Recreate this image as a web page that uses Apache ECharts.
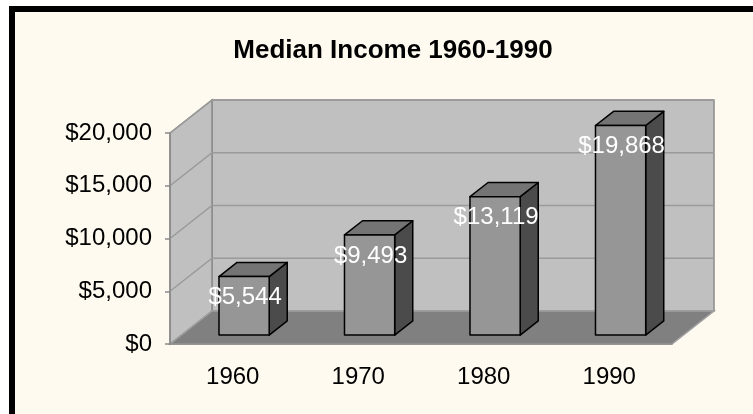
<!DOCTYPE html>
<html>
<head>
<meta charset="utf-8">
<script src="https://cdn.jsdelivr.net/npm/echarts@6/dist/echarts.min.js"></script>
<style>
  html, body { margin: 0; padding: 0; background: #fff; overflow: hidden; }
  #frame { position: absolute; left: 9px; top: 6px; width: 900px; height: 600px; background: #fffaf0; border-left: 6px solid #000; border-top: 6px solid #000; }
  #main { position: absolute; left: 0; top: 0; width: 753px; height: 414px; }
</style>
</head>
<body>
<div id="frame"></div>
<div id="main"></div>
<script>
// 数据
let years = ['1960', '1970', '1980', '1990'];
let income = [5544, 9493, 13119, 19868];
let yTicks = [0, 5000, 10000, 15000, 20000];

// 3D 进深（像素）
const DX = 42, DY = -33;

function money(v) {
  return '$' + v.toLocaleString('en-US');
}

let myChart = echarts.init(document.getElementById('main'));

// 背墙、侧墙、底面
function renderWalls(params, api) {
  let cs = params.coordSys;
  let x0 = cs.x, x1 = cs.x + cs.width;
  let yb = api.coord([0, 0])[1];
  let yt = api.coord([0, yTicks[yTicks.length - 1]])[1];
  let gridColor = '#9a9a9a';
  let children = [
    { type: 'polygon', shape: { points: [[x0 + DX, yb + DY], [x1 + DX, yb + DY], [x1 + DX, yt + DY], [x0 + DX, yt + DY]] },
      style: { fill: '#c0c0c0', stroke: '#8a8a8a', lineWidth: 1.5 } },
    { type: 'polygon', shape: { points: [[x0, yb], [x0 + DX, yb + DY], [x0 + DX, yt + DY], [x0, yt]] },
      style: { fill: '#c0c0c0', stroke: '#8a8a8a', lineWidth: 1.5 } },
    { type: 'polygon', shape: { points: [[x0, yb], [x1, yb], [x1 + DX, yb + DY], [x0 + DX, yb + DY]] },
      style: { fill: '#808080', stroke: '#a0a0a0', lineWidth: 1.5 } }
  ];
  yTicks.forEach(function (v) {
    if (v === 0) return;
    let y = api.coord([0, v])[1];
    children.push({ type: 'polyline', shape: { points: [[x0, y], [x0 + DX, y + DY], [x1 + DX, y + DY]] },
      style: { fill: null, stroke: gridColor, lineWidth: 1.5 } });
  });
  return { type: 'group', children: children };
}

// 立体柱子
function renderBar(params, api) {
  let idx = api.value(0);
  let val = api.value(1);
  let c = api.coord([idx, val]);
  let c0 = api.coord([idx, 0]);
  let band = api.size([1, 0])[0];
  let w = band * 0.4;
  let left = c[0] - w / 2 + DX * 0.27;
  let right = left + w;
  let top = c[1] + DY * 0.27;
  let bottom = c0[1] + DY * 0.27;
  let bdx = DX * 0.43, bdy = DY * 0.43;
  let line = { stroke: '#000', lineWidth: 1.5, lineJoin: 'round' };
  return {
    type: 'group',
    children: [
      { type: 'polygon', shape: { points: [[right, top], [right + bdx, top + bdy], [right + bdx, bottom + bdy], [right, bottom]] },
        style: Object.assign({ fill: '#4b4b4b' }, line) },
      { type: 'polygon', shape: { points: [[left, top], [right, top], [right + bdx, top + bdy], [left + bdx, top + bdy]] },
        style: Object.assign({ fill: '#747474' }, line) },
      { type: 'rect', shape: { x: left, y: top, width: w, height: bottom - top },
        style: Object.assign({ fill: '#969696' }, line) },
      { type: 'text', x: (left + right) / 2 + 1, y: top + 21,
        style: { text: money(val), fill: '#fff', font: '24px "Liberation Sans", Arial', align: 'center', verticalAlign: 'middle' } }
    ]
  };
}

let option = {
  animation: false,
  textStyle: { fontFamily: '"Liberation Sans", Arial, sans-serif' },
  title: {
    text: 'Median Income 1960-1990',
    left: 388,
    textAlign: 'center',
    top: 33,
    textStyle: { fontSize: 26, fontWeight: 'bold', color: '#000' }
  },
  grid: { left: 170, right: 81, top: 133, bottom: 70 },
  xAxis: {
    type: 'category',
    data: years,
    z: 5,
    axisLine: { lineStyle: { color: '#8a8a8a', width: 1.5 } },
    axisTick: { length: 5, lineStyle: { color: '#8a8a8a', width: 1.5 } },
    axisLabel: { fontSize: 24, color: '#000', margin: 21 },
    splitLine: { show: false }
  },
  yAxis: {
    type: 'value',
    min: 0,
    max: 20000,
    interval: 5000,
    z: 5,
    axisLine: { show: true, lineStyle: { color: '#8a8a8a', width: 1.5 } },
    axisTick: { show: true, length: 5, lineStyle: { color: '#8a8a8a', width: 1.5 } },
    axisLabel: { fontSize: 24, color: '#000', margin: 18, padding: [8, 0, 0, 0], formatter: money },
    splitLine: { show: false }
  },
  series: [
    { type: 'custom', z: 1, silent: true, renderItem: renderWalls, data: [[0, 0]] },
    { type: 'custom', z: 3, renderItem: renderBar, encode: { x: 0, y: 1 },
      data: income.map(function (v, i) { return [i, v]; }) }
  ]
};
myChart.setOption(option);
</script>
</body>
</html>
